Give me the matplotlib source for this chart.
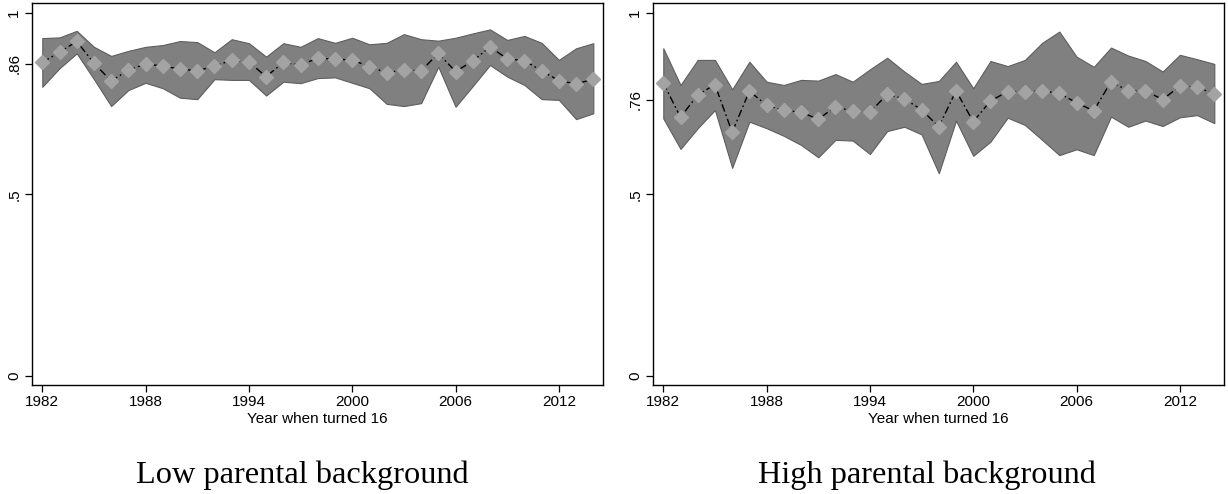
import matplotlib
matplotlib.use("Agg")
import matplotlib.pyplot as plt

years = list(range(1982, 2015))

low_mean = [0.863, 0.891, 0.921, 0.861, 0.812, 0.842, 0.859, 0.853, 0.845, 0.840,
            0.853, 0.869, 0.864, 0.824, 0.863, 0.856, 0.875, 0.872, 0.870, 0.851,
            0.835, 0.842, 0.840, 0.888, 0.838, 0.867, 0.906, 0.873, 0.868, 0.840,
            0.813, 0.804, 0.817]
low_upper = [0.930, 0.932, 0.950, 0.906, 0.881, 0.895, 0.906, 0.911, 0.922, 0.919,
             0.891, 0.927, 0.916, 0.879, 0.916, 0.906, 0.930, 0.917, 0.931, 0.913,
             0.917, 0.941, 0.927, 0.923, 0.931, 0.943, 0.954, 0.925, 0.936, 0.917,
             0.870, 0.902, 0.916]
low_lower = [0.796, 0.847, 0.888, 0.817, 0.743, 0.787, 0.807, 0.792, 0.766, 0.762,
             0.817, 0.815, 0.815, 0.772, 0.810, 0.806, 0.820, 0.822, 0.807, 0.792,
             0.749, 0.743, 0.751, 0.851, 0.741, 0.798, 0.856, 0.824, 0.801, 0.762,
             0.760, 0.707, 0.723]

high_mean = [0.807, 0.712, 0.774, 0.802, 0.671, 0.784, 0.745, 0.731, 0.726, 0.707,
             0.741, 0.729, 0.726, 0.775, 0.763, 0.733, 0.686, 0.785, 0.700, 0.757,
             0.783, 0.783, 0.785, 0.778, 0.752, 0.730, 0.810, 0.785, 0.785, 0.761,
             0.798, 0.795, 0.776]
high_upper = [0.902, 0.801, 0.870, 0.870, 0.789, 0.865, 0.810, 0.801, 0.815, 0.813,
              0.831, 0.810, 0.844, 0.876, 0.838, 0.804, 0.812, 0.865, 0.792, 0.867,
              0.853, 0.870, 0.917, 0.948, 0.879, 0.851, 0.904, 0.882, 0.867, 0.838,
              0.884, 0.872, 0.859]
high_lower = [0.709, 0.625, 0.682, 0.732, 0.573, 0.700, 0.682, 0.661, 0.636, 0.602,
              0.650, 0.648, 0.611, 0.674, 0.686, 0.665, 0.558, 0.703, 0.606, 0.645,
              0.711, 0.691, 0.650, 0.608, 0.624, 0.608, 0.714, 0.686, 0.703, 0.688,
              0.712, 0.718, 0.696]

x_ticks = [1982, 1988, 1994, 2000, 2006, 2012]
low_yticks = [0, 0.5, 0.86, 1]
low_ylabels = ["0", ".5", ".86", "1"]
high_yticks = [0, 0.5, 0.76, 1]
high_ylabels = ["0", ".5", ".76", "1"]
xlabel = "Year when turned 16"
titles = ["Low parental background", "High parental background"]

plt.rcParams['font.family'] = ['Liberation Sans', 'DejaVu Sans']
plt.rcParams['lines.scale_dashes'] = False

W, H = 1228, 494
fig = plt.figure(figsize=(W / 100, H / 100), dpi=100)

panels = [
    (32.3, 302.0, low_mean, low_upper, low_lower, low_yticks, low_ylabels, titles[0]),
    (653.3, 927.0, high_mean, high_upper, high_lower, high_yticks, high_ylabels, titles[1]),
]
ax_w = 571.0
ax_top = 2.7
ax_bot = 385.0

for x0, tx, mean, up, lo, yt, yl, title in panels:
    ax = fig.add_axes([x0 / W, (H - ax_bot) / H, ax_w / W, (ax_bot - ax_top) / H])
    ax.fill_between(years, lo, up, facecolor='#808080', edgecolor='#5e5e5e',
                    linewidth=0.8, zorder=1)
    ax.plot(years, mean, color='black', linewidth=1.0,
            linestyle=(0, (5.5, 2.2, 1.2, 2.2)), zorder=2)
    ax.plot(years, mean, linestyle='none', marker='D', markersize=7.3,
            markerfacecolor='#a3a3a3', markeredgecolor='#a3a3a3', zorder=3)
    ax.set_xlim(1981.42, 2014.58)
    ax.set_ylim(-0.0248, 1.0275)
    ax.set_xticks(x_ticks)
    ax.set_xticklabels([str(v) for v in x_ticks], fontsize=11)
    ax.set_yticks(yt)
    ax.set_yticklabels(yl, fontsize=11, rotation=90, va='center')
    ax.tick_params(axis='both', direction='out', length=5, width=0.9, color='black')
    ax.tick_params(axis='x', pad=2)
    ax.tick_params(axis='y', pad=3)
    ax.set_xlabel(xlabel, fontsize=11, labelpad=2)
    for s in ax.spines.values():
        s.set_linewidth(1.0)
        s.set_color('black')
    fig.text(tx / W, 11 / H, title, ha='center', va='baseline',
             fontsize=23.3, family=['Liberation Serif', 'DejaVu Serif'])

fig.savefig("out.png", dpi=100)
